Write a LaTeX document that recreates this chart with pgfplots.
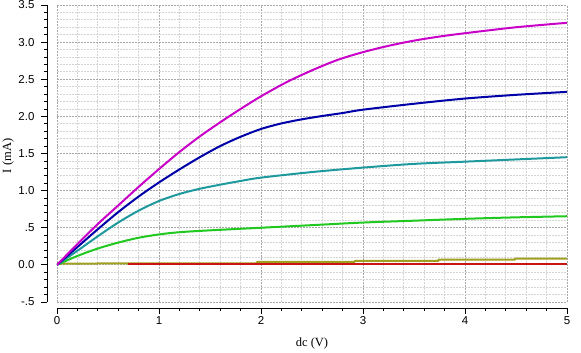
\documentclass[border=0pt]{standalone}
\usepackage{fontspec}
\setmainfont{Liberation Sans}
\newfontfamily\seriffont{Liberation Serif}
\usepackage{pgfplots}
\pgfplotsset{compat=1.18}
\usetikzlibrary{calc}
\definecolor{cmag}{HTML}{C800C8}
\definecolor{cblue}{HTML}{0000A8}
\definecolor{cteal}{HTML}{1E9A9E}
\definecolor{cgreen}{HTML}{20C820}
\definecolor{colive}{HTML}{A0A020}
\definecolor{cred}{HTML}{C81414}
\definecolor{gmaj}{HTML}{A8A8A8}
\definecolor{gmin}{HTML}{D4D4D4}
\begin{document}
\begin{tikzpicture}[font=\fontsize{11.5bp}{13bp}\selectfont]
\begin{axis}[
  scale only axis, width=510bp, height=297bp,
  xmin=0, xmax=5, ymin=-0.5, ymax=3.5,
  axis x line*=bottom, axis y line*=left,
  axis x line shift=6bp, axis y line shift=10bp,
  axis line style={black, line width=0.8bp, -},
  tick align=outside, major tick length=6bp, minor tick length=3bp,
  tick style={black, line width=0.8bp},
  every tick label/.append style={font=\fontsize{11.5bp}{13bp}\selectfont},
  yticklabel style={xshift=-3bp},
  xticklabel style={yshift=1bp},
  xtick={0,1,2,3,4,5}, xticklabels={0,1,2,3,4,5},
  ytick={-0.5,0,0.5,1,1.5,2,2.5,3,3.5},
  yticklabels={-.5,0.0,.5,1.0,1.5,2.0,2.5,3.0,3.5},
  minor x tick num=4, minor y tick num=4,
  grid=both,
  major grid style={dash pattern=on 2bp off 1bp, draw=gmaj, line width=0.8bp},
  minor grid style={dash pattern=on 2bp off 1bp, draw=gmin, line width=0.8bp},
  xlabel={\seriffont\fontsize{12.5bp}{14bp}\selectfont dc (V)},
  xlabel style={at={(axis description cs:0.5,0)}, anchor=center, yshift=-42bp},
  every axis plot/.append style={line width=2bp, line join=round},
]
\coordinate (ll) at (rel axis cs:0,0);
\coordinate (ur) at (rel axis cs:1,1);
\addplot[colive] coordinates {(0,0.018) (1.96,0.02) (1.96,0.04) (2.92,0.04) (2.92,0.055) (3.74,0.055) (3.74,0.07) (4.49,0.07) (4.49,0.085) (5,0.085)};
\addplot[cred] coordinates {(0.7,0.012) (5,0.012)};
\addplot[cgreen, smooth] coordinates {(0,0) (0.2,0.12) (0.4,0.22) (0.6,0.30) (0.8,0.365) (1.0,0.41) (1.2,0.44) (1.5,0.465) (2.0,0.50) (2.5,0.535) (3.0,0.57) (3.5,0.595) (4.0,0.62) (4.5,0.64) (5.0,0.655)};
\addplot[cteal, smooth] coordinates {(0,0) (0.2,0.19) (0.4,0.385) (0.6,0.57) (0.8,0.73) (1.0,0.86) (1.2,0.955) (1.4,1.025) (1.6,1.08) (1.8,1.13) (2.0,1.175) (2.5,1.25) (3.0,1.31) (3.5,1.36) (4.0,1.39) (4.5,1.42) (5.0,1.45)};
\addplot[cblue, smooth] coordinates {(0,0) (0.2,0.24) (0.4,0.48) (0.6,0.71) (0.8,0.92) (1.0,1.11) (1.2,1.285) (1.4,1.45) (1.6,1.60) (1.8,1.725) (2.0,1.83) (2.2,1.905) (2.4,1.96) (2.6,2.005) (2.8,2.045) (3.0,2.09) (3.5,2.17) (4.0,2.24) (4.5,2.29) (5.0,2.33)};
\addplot[cmag, smooth] coordinates {(0,0) (0.2,0.28) (0.4,0.55) (0.6,0.80) (0.8,1.05) (1.0,1.29) (1.2,1.52) (1.4,1.73) (1.6,1.92) (1.8,2.10) (2.0,2.27) (2.25,2.46) (2.5,2.62) (2.75,2.76) (3.0,2.865) (3.25,2.95) (3.5,3.02) (3.75,3.075) (4.0,3.12) (4.5,3.20) (5.0,3.26)};
\end{axis}
\node[rotate=90, font=\seriffont\fontsize{12.5bp}{14bp}\selectfont] at ($(ll)+(-49bp,146bp)$) {I (mA)};
\pgfresetboundingbox
\path[use as bounding box] ($(ll)+(-57bp,-51bp)$) rectangle ($(ur)+(14bp,5bp)$);
\end{tikzpicture}
\end{document}
